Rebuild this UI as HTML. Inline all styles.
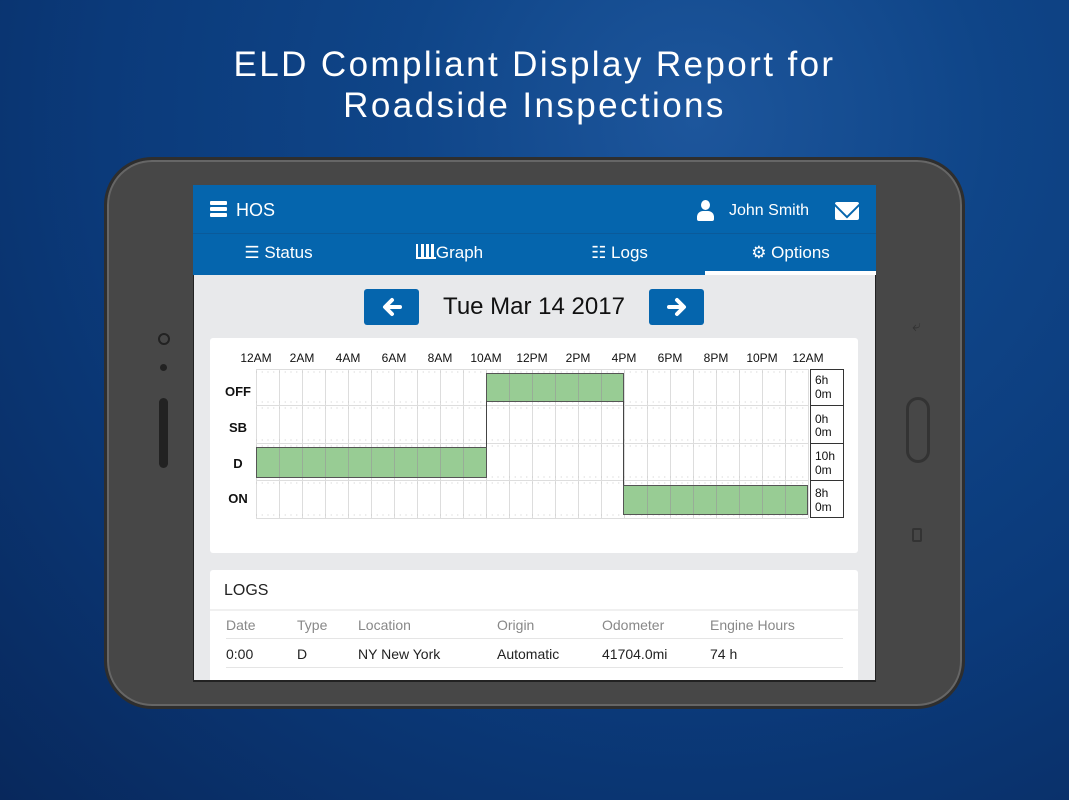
<!DOCTYPE html>
<html><head><meta charset="utf-8"><style>
*{margin:0;padding:0;box-sizing:border-box}
body{width:1069px;height:800px;overflow:hidden;position:relative;font-family:"Liberation Sans",sans-serif;
background:radial-gradient(ellipse at 65% 15%,#1d569c 0%,#0f4588 30%,#0b3a7a 60%,#08285c 100%);}
.a{position:absolute}
.title{left:0;width:1069px;top:44px;text-align:center;color:#fff;font-size:35px;line-height:41px;letter-spacing:2.4px}
.tab{top:233px;height:42px;color:#fff;font-size:17px;line-height:40px;text-align:center;width:171px}
.th{color:#888;font-size:14px;top:617px}
.td{color:#222;font-size:14px;top:646px}
</style></head><body>
<div class="a title">ELD Compliant Display Report for<br>Roadside Inspections</div>
<div class="a" style="left:104px;top:157px;width:861px;height:552px;border-radius:48px;background:#474747;border:3px solid #2e2e2e;box-shadow:inset 0 0 0 2px #666"></div>
<div class="a" style="left:158px;top:333px;width:12px;height:12px;border-radius:50%;border:2px solid #222"></div>
<div class="a" style="left:160px;top:364px;width:7px;height:7px;border-radius:50%;background:#222"></div>
<div class="a" style="left:159px;top:398px;width:9px;height:70px;border-radius:5px;background:#222"></div>
<div class="a" style="left:906px;top:397px;width:24px;height:66px;border-radius:12px;border:3px solid #333"></div>
<div class="a" style="left:912px;top:318px;color:#333;font-size:16px">⤶</div>
<div class="a" style="left:912px;top:528px;width:10px;height:14px;border:2px solid #333;border-radius:2px"></div>
<div class="a" style="left:193px;top:185px;width:683px;height:496px;background:#e8e9eb;overflow:hidden;border:1px solid #222"></div>
<div class="a" style="left:193px;top:185px;width:683px;height:90px;background:#0565ad"></div>
<div class="a" style="left:193px;top:233px;width:683px;height:1px;background:#0a5a9a"></div>
<div class="a" style="left:210px;top:201px;width:17px;height:4px;background:#fff;box-shadow:0 6px 0 #fff,0 12px 0 #fff;border-radius:1px"></div>
<div class="a" style="left:236px;top:200px;color:#fff;font-size:18px">HOS</div>
<div class="a" style="left:697px;top:200px;width:16px;height:22px">
<div class="a" style="left:4px;top:0;width:9px;height:10px;border-radius:50%;background:#fff"></div>
<div class="a" style="left:0;top:11px;width:17px;height:10px;border-radius:6px 6px 2px 2px;background:#fff"></div></div>
<div class="a" style="left:729px;top:202px;color:#fff;font-size:16px">John Smith</div>
<div class="a" style="left:835px;top:202px;width:24px;height:18px;background:#fff;border-radius:2px;overflow:hidden">
<div class="a" style="left:1px;top:-10px;width:22px;height:22px;transform:rotate(45deg);border:2px solid #0565ad;background:transparent"></div></div>
<div class="a tab" style="left:193px">☰ Status</div>
<div class="a tab" style="left:364px"><span style="display:inline-block;width:20px;height:15px;border-left:2px solid #fff;border-bottom:2px solid #fff;vertical-align:-1px;background:linear-gradient(90deg,transparent 3px,#fff 3px,#fff 6px,transparent 6px,transparent 8px,#fff 8px,#fff 11px,transparent 11px,transparent 13px,#fff 13px,#fff 16px,transparent 16px)"></span>Graph</div>
<div class="a tab" style="left:534px">☷ Logs</div>
<div class="a tab" style="left:705px">⚙ Options</div>
<div class="a" style="left:705px;top:271px;width:171px;height:4px;background:#fff"></div>
<div class="a" style="left:364px;top:289px;width:55px;height:36px;background:#0565ad;border-radius:3px"></div>
<div class="a" style="left:649px;top:289px;width:55px;height:36px;background:#0565ad;border-radius:3px"></div>
<svg class="a" style="left:0;top:0" width="1069" height="800">
<path d="M400 307H386M392 300L385 307L392 314" stroke="#fff" stroke-width="4" fill="none" stroke-linecap="round" stroke-linejoin="round"/>
<path d="M669 307H683M677 300L684 307L677 314" stroke="#fff" stroke-width="4" fill="none" stroke-linecap="round" stroke-linejoin="round"/>
</svg>
<div class="a" style="left:419px;top:293px;width:230px;text-align:center;font-size:24px;color:#111">Tue Mar 14 2017</div>
<div class="a" style="left:210px;top:338px;width:648px;height:215px;background:#fff;border-radius:3px"></div>
<svg class="a" style="left:0;top:0" width="1069" height="800" font-family="Liberation Sans,sans-serif">
<g font-size="12" fill="#111" text-anchor="middle">
<text x="256" y="362">12AM</text><text x="302" y="362">2AM</text><text x="348" y="362">4AM</text><text x="394" y="362">6AM</text><text x="440" y="362">8AM</text><text x="486" y="362">10AM</text><text x="532" y="362">12PM</text><text x="578" y="362">2PM</text><text x="624" y="362">4PM</text><text x="670" y="362">6PM</text><text x="716" y="362">8PM</text><text x="762" y="362">10PM</text><text x="808" y="362">12AM</text>
</g>
<g font-size="13" font-weight="bold" fill="#111" text-anchor="middle">
<text x="238" y="396">OFF</text><text x="238" y="432">SB</text><text x="238" y="468">D</text><text x="238" y="503">ON</text></g>
<g stroke="#ddd" stroke-width="1">
<path d="M256.5 369V518M279.5 369V518M302.5 369V518M325.5 369V518M348.5 369V518M371.5 369V518M394.5 369V518M417.5 369V518M440.5 369V518M463.5 369V518M486.5 369V518M509.5 369V518M532.5 369V518M555.5 369V518M578.5 369V518M601.5 369V518M624.5 369V518M647.5 369V518M670.5 369V518M693.5 369V518M716.5 369V518M739.5 369V518M762.5 369V518M785.5 369V518M808.5 369V518"/>
<path d="M256 369.5H808M256 405.5H808M256 443.5H808M256 480.5H808M256 518.5H808"/>
</g>
<g stroke="#ccc" stroke-dasharray="1 4.75">
<path d="M256 372H808M256 408H808M256 446H808M256 483H808M256 402H808M256 440H808M256 477H808M256 515H808"/>
</g>
<g fill="#98cc94" stroke="#555" stroke-width="1">
<rect x="486.5" y="373.5" width="137" height="28"/>
<rect x="256.5" y="447.5" width="230" height="30"/>
<rect x="623.5" y="485.5" width="184" height="29"/>
</g>
<g stroke="#999" stroke-width="1" opacity=".6"><path d="M509.5 374V401M532.5 374V401M555.5 374V401M578.5 374V401M601.5 374V401M279.5 448V477M302.5 448V477M325.5 448V477M348.5 448V477M371.5 448V477M394.5 448V477M417.5 448V477M440.5 448V477M463.5 448V477M647.5 486V514M670.5 486V514M693.5 486V514M716.5 486V514M739.5 486V514M762.5 486V514M785.5 486V514"/></g>
<path d="M486.5 401V447M623.5 401V485" stroke="#444" fill="none"/>
<g fill="#fff" stroke="#333"><rect x="810.5" y="369.5" width="33" height="36"/><rect x="810.5" y="405.5" width="33" height="38"/><rect x="810.5" y="443.5" width="33" height="37"/><rect x="810.5" y="480.5" width="33" height="37"/></g>
<g font-size="12" fill="#111"><text x="815" y="384">6h</text><text x="815" y="398">0m</text><text x="815" y="423">0h</text><text x="815" y="436">0m</text><text x="815" y="460">10h</text><text x="815" y="474">0m</text><text x="815" y="497">8h</text><text x="815" y="511">0m</text></g>
</svg>
<div class="a" style="left:210px;top:570px;width:648px;height:111px;background:#fff;border-radius:3px 3px 0 0"></div>
<div class="a" style="left:210px;top:609px;width:648px;height:2px;background:#f0f0f0"></div>
<div class="a" style="left:224px;top:582px;font-size:16px;color:#222">LOGS</div>
<div class="a th" style="left:226px">Date</div><div class="a th" style="left:297px">Type</div><div class="a th" style="left:358px">Location</div><div class="a th" style="left:497px">Origin</div><div class="a th" style="left:602px">Odometer</div><div class="a th" style="left:710px">Engine Hours</div>
<div class="a" style="left:226px;top:638px;width:617px;height:1px;background:#e5e5e5"></div>
<div class="a td" style="left:226px">0:00</div><div class="a td" style="left:297px">D</div><div class="a td" style="left:358px">NY New York</div><div class="a td" style="left:497px">Automatic</div><div class="a td" style="left:602px">41704.0mi</div><div class="a td" style="left:710px">74 h</div>
<div class="a" style="left:226px;top:667px;width:617px;height:1px;background:#e5e5e5"></div>
<div class="a" style="left:193px;top:680px;width:683px;height:2px;background:#222"></div>
</body></html>
